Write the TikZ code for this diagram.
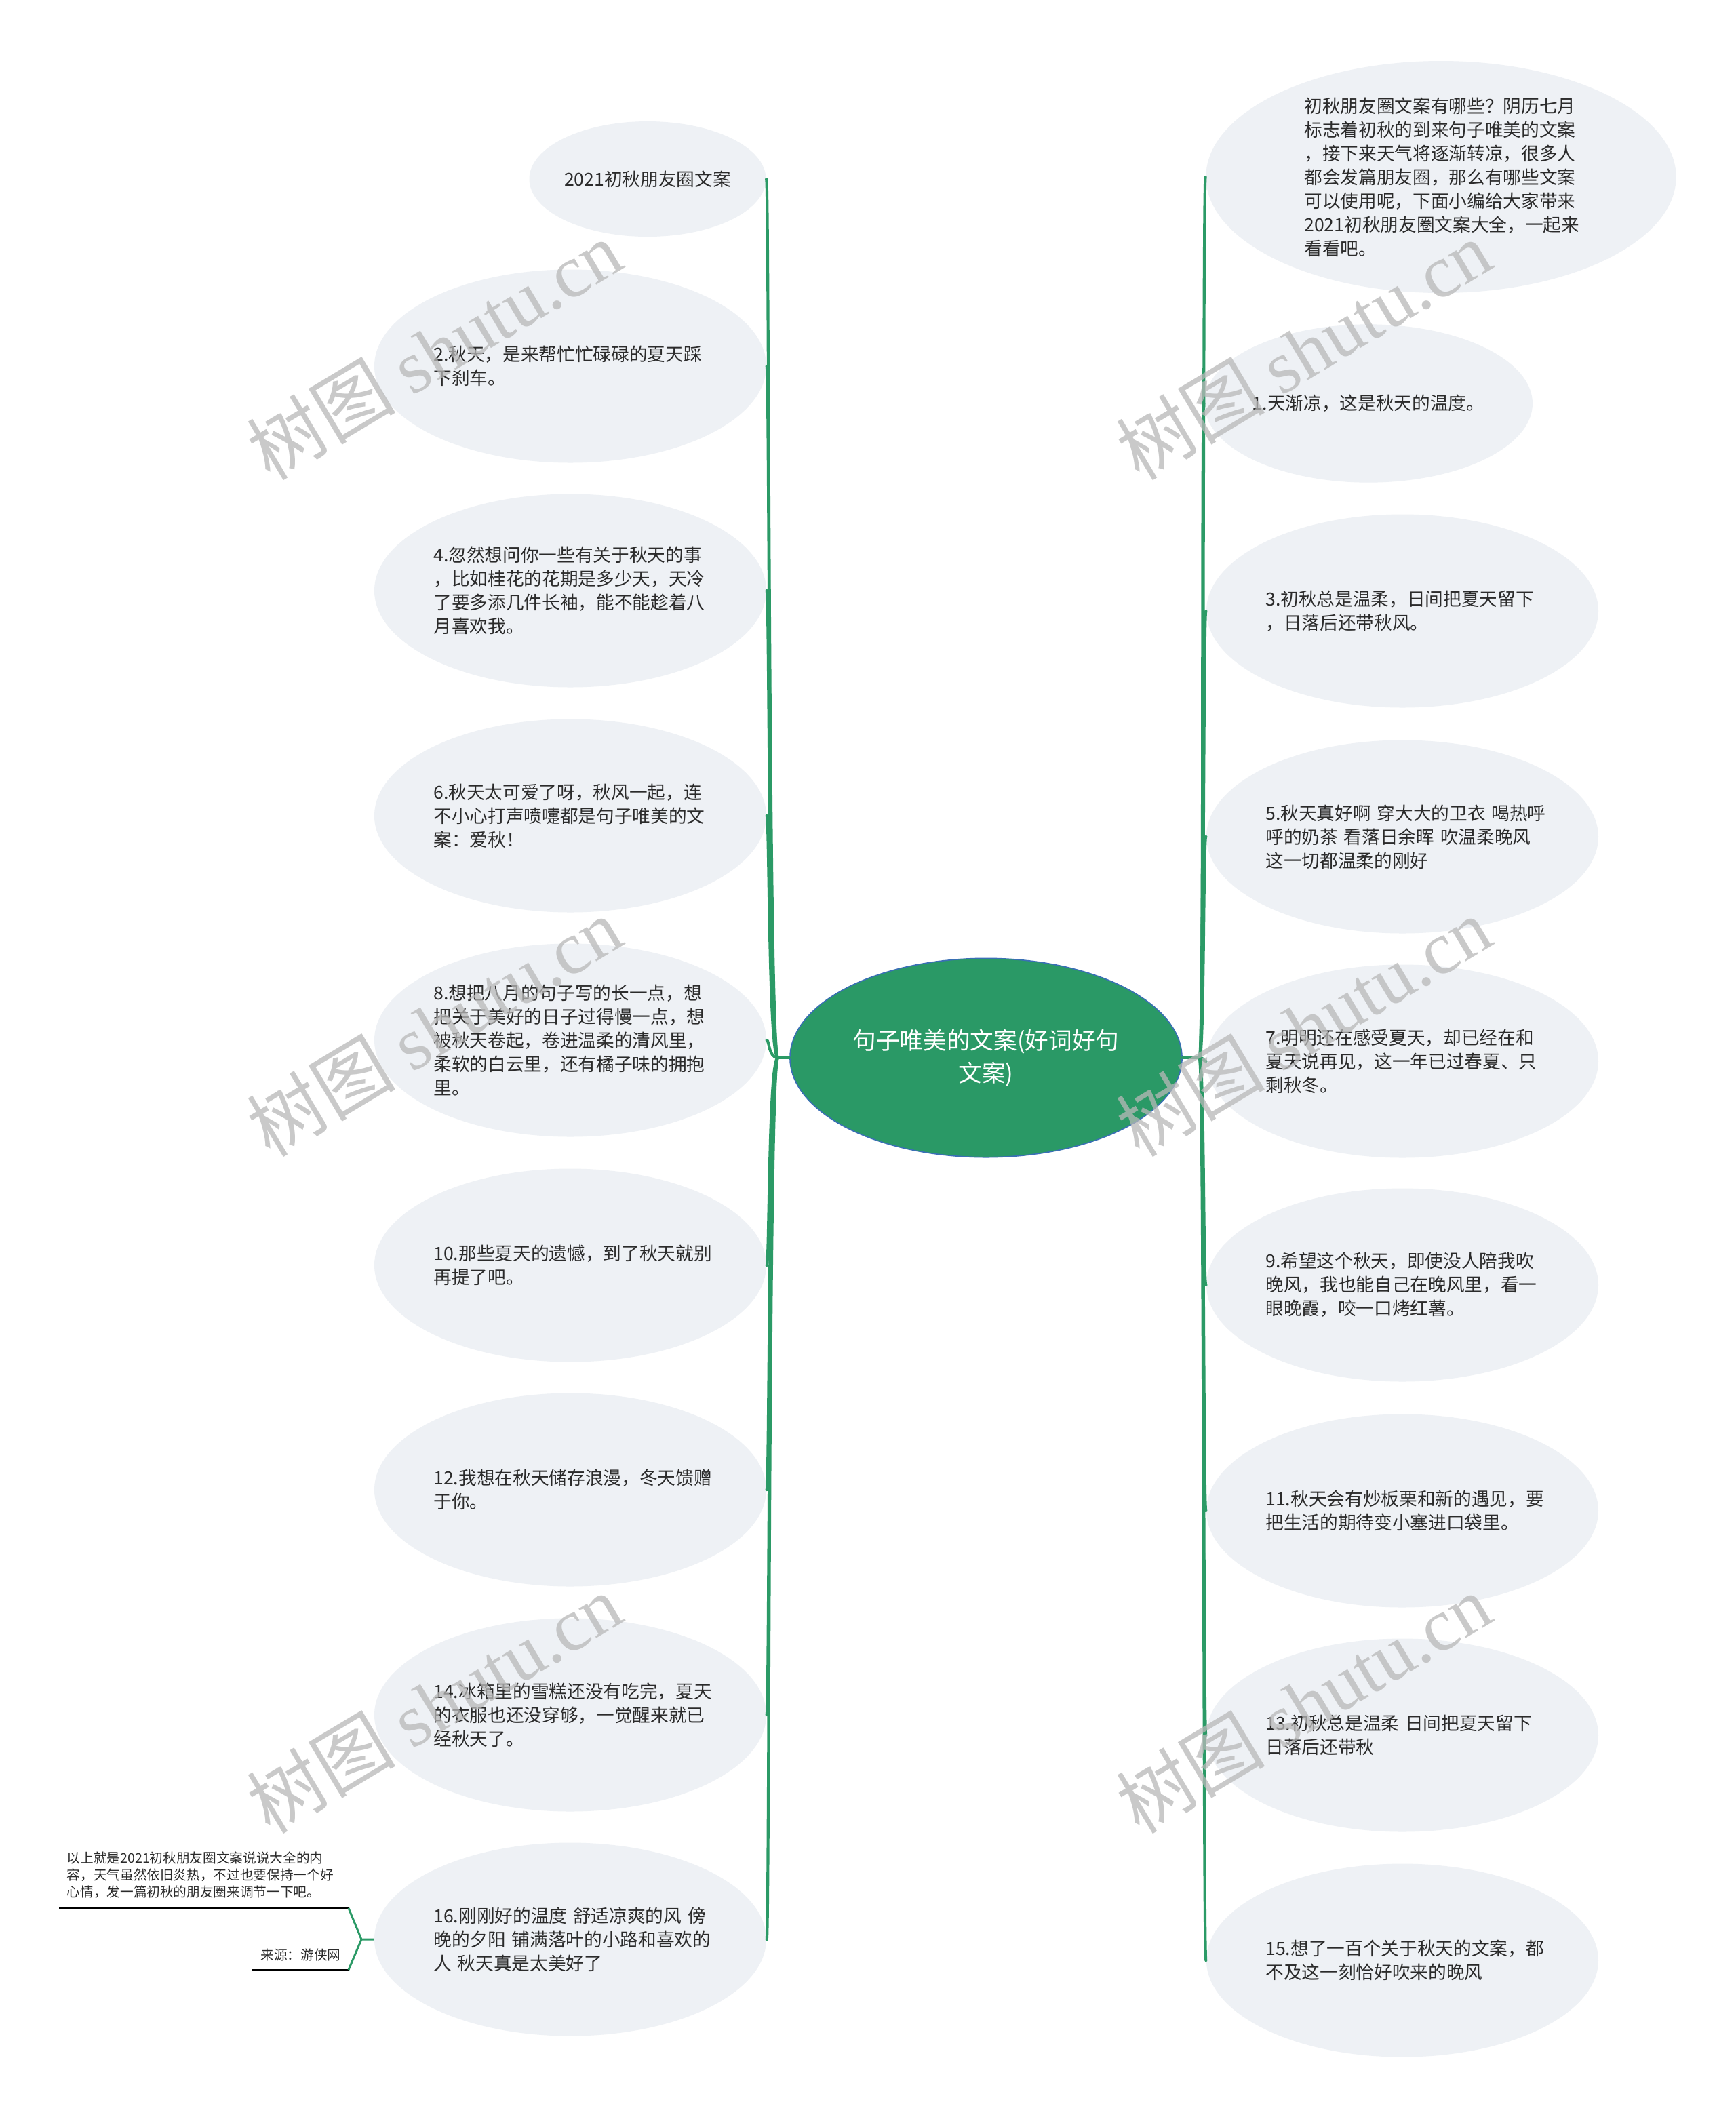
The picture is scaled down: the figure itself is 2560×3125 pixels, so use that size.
\documentclass[tikz,border=0pt]{standalone}
\usepackage{fontspec}
\setmainfont{Noto Sans CJK SC}
\newfontfamily\wmserif{Liberation Serif}
\usetikzlibrary{shapes.geometric,calc}
\definecolor{leaf}{HTML}{EEF1F5}
\definecolor{hubfill}{HTML}{2A9966}
\definecolor{hubline}{HTML}{3A6FB5}
\definecolor{connc}{HTML}{2B9A66}
\definecolor{txt}{HTML}{2B2B2B}
\definecolor{wm}{HTML}{B8B8B8}
\hbadness=10000 \hfuzz=50pt
\begin{document}
\begin{tikzpicture}[x=0.3pt,y=-0.3pt,
  leafnode/.style={ellipse, fill=leaf, inner sep=0pt, minimum width=173.4pt, minimum height=85.5pt,
    text width=121pt, align=left, font=\fontsize{8}{10.5}\selectfont, text=txt},
  hubnode/.style={ellipse, fill=hubfill, draw=hubline, line width=0.5pt, inner sep=0pt,
    minimum width=173.4pt, minimum height=88pt, align=center, text=white,
    font=\fontsize{10.4}{14.3}\selectfont},
  connline/.style={draw=connc, line width=1.25pt, line cap=round},
  noteline/.style={draw=black, line width=0.9pt},
  notegreen/.style={draw=connc, line width=0.9pt},
  notetext/.style={inner sep=0pt, text=txt, align=left, font=\fontsize{5.9}{7.6}\selectfont},
  wmark/.style={rotate=31, text=wm, text opacity=0.75, inner sep=0pt, font=\fontsize{33}{33}\selectfont}
]
\useasboundingbox (0,0) rectangle (2560,3125);
\fill[white] (0,0) rectangle (2560,3125);

% central topic
\node[hubnode] (c) at (1454,1560) {句子唯美的文案(好词好句\\文案)};

% left branch
\node[leafnode, minimum width=104.7pt, minimum height=51pt, text width=, align=center] (l1) at (955,264) {2021初秋朋友圈文案};
\node[leafnode] (l2) at (841,540) {2.秋天，是来帮忙忙碌碌的夏天踩\\下刹车。};
\node[leafnode] (l3) at (841,871) {4.忽然想问你一些有关于秋天的事\\，比如桂花的花期是多少天，天冷\\了要多添几件长袖，能不能趁着八\\月喜欢我。};
\node[leafnode] (l4) at (841,1203) {6.秋天太可爱了呀，秋风一起，连\\不小心打声喷嚏都是句子唯美的文\\案：爱秋！};
\node[leafnode] (l5) at (841,1534) {8.想把八月的句子写的长一点，想\\把关于美好的日子过得慢一点，想\\被秋天卷起，卷进温柔的清风里，\\柔软的白云里，还有橘子味的拥抱\\里。};
\node[leafnode] (l6) at (841,1866) {10.那些夏天的遗憾，到了秋天就别\\再提了吧。};
\node[leafnode] (l7) at (841,2197) {12.我想在秋天储存浪漫，冬天馈赠\\于你。};
\node[leafnode] (l8) at (841,2529) {14.冰箱里的雪糕还没有吃完，夏天\\的衣服也还没穿够，一觉醒来就已\\经秋天了。};
\node[leafnode] (l9) at (841,2860) {16.刚刚好的温度~舒适凉爽的风~傍\\晚的夕阳~铺满落叶的小路和喜欢的\\人~秋天真是太美好了};

% right branch
\node[leafnode, minimum width=208pt, minimum height=102.6pt] (r0) at (2125,261) {初秋朋友圈文案有哪些？阴历七月\\标志着初秋的到来句子唯美的文案\\，接下来天气将逐渐转凉，很多人\\都会发篇朋友圈，那么有哪些文案\\可以使用呢，下面小编给大家带来\\2021初秋朋友圈文案大全，一起来\\看看吧。};
\node[leafnode, minimum width=143.4pt, minimum height=70pt, text width=, align=left] (r1) at (2018,595) {1.天渐凉，这是秋天的温度。};
\node[leafnode] (r2) at (2068,901) {3.初秋总是温柔，日间把夏天留下\\，日落后还带秋风。};
\node[leafnode] (r3) at (2068,1234) {5.秋天真好啊~穿大大的卫衣~喝热呼\\呼的奶茶~看落日余晖~吹温柔晚风\\这一切都温柔的刚好};
\node[leafnode] (r4) at (2068,1565) {7.明明还在感受夏天，却已经在和\\夏天说再见，这一年已过春夏、只\\剩秋冬。};
\node[leafnode] (r5) at (2068,1895) {9.希望这个秋天，即使没人陪我吹\\晚风，我也能自己在晚风里，看一\\眼晚霞，咬一口烤红薯。};
\node[leafnode] (r6) at (2068,2228) {11.秋天会有炒板栗和新的遇见，要\\把生活的期待变小塞进口袋里。};
\node[leafnode] (r7) at (2068,2559) {13.初秋总是温柔~日间把夏天留下\\日落后还带秋};
\node[leafnode] (r8) at (2068,2891) {15.想了一百个关于秋天的文案，都\\不及这一刻恰好吹来的晚风};

% connectors
\coordinate (hl) at ($(c.west)+(-17,0)$);
\coordinate (hr) at ($(c.east)+(25,0)$);
\draw[connline] (c.west) -- (hl);
\draw[connline] (c.east) -- (hr);
\foreach \n in {l1,l2,l3,l4,l5,l6,l7,l8,l9}
  \draw[connline] (hl) .. controls ($(hl)+(-14,0)$) and ($(\n.east)+(4,0)$) .. (\n.east);
\foreach \n in {r0,r1,r2,r3,r4,r5,r6,r7,r8}
  \draw[connline] (hr) .. controls ($(hr)+(7,0)$) and ($(\n.west)+(-4,0)$) .. (\n.west);

% note attached to l9
\node[notetext, anchor=west, text width=122pt] (n1) at (98,2765) {以上就是2021初秋朋友圈文案说说大全的内\\容，天气虽然依旧炎热，不过也要保持一个好\\心情，发一篇初秋的朋友圈来调节一下吧。};
\node[notetext, anchor=east] (n2) at (503,2883) {来源：游侠网};
\coordinate (u1a) at (87,2814);
\coordinate (u1b) at (514,2814);
\coordinate (u2a) at (372,2905);
\coordinate (u2b) at (514,2905);
\coordinate (nj) at (533,2860);
\draw[noteline] (u1a) -- (u1b);
\draw[noteline] (u2a) -- (u2b);
\draw[notegreen] (u1b) -- (nj) -- (l9.west);
\draw[notegreen] (u2b) -- (nj);

% watermarks
\foreach \x/\y [count=\i] in {640/516, 1922/516, 640/1514, 1922/1514, 640/2512, 1922/2512}
  \node[wmark] (wm\i) at (\x,\y) {树图 {\wmserif shutu.cn}};
\end{tikzpicture}
\end{document}
